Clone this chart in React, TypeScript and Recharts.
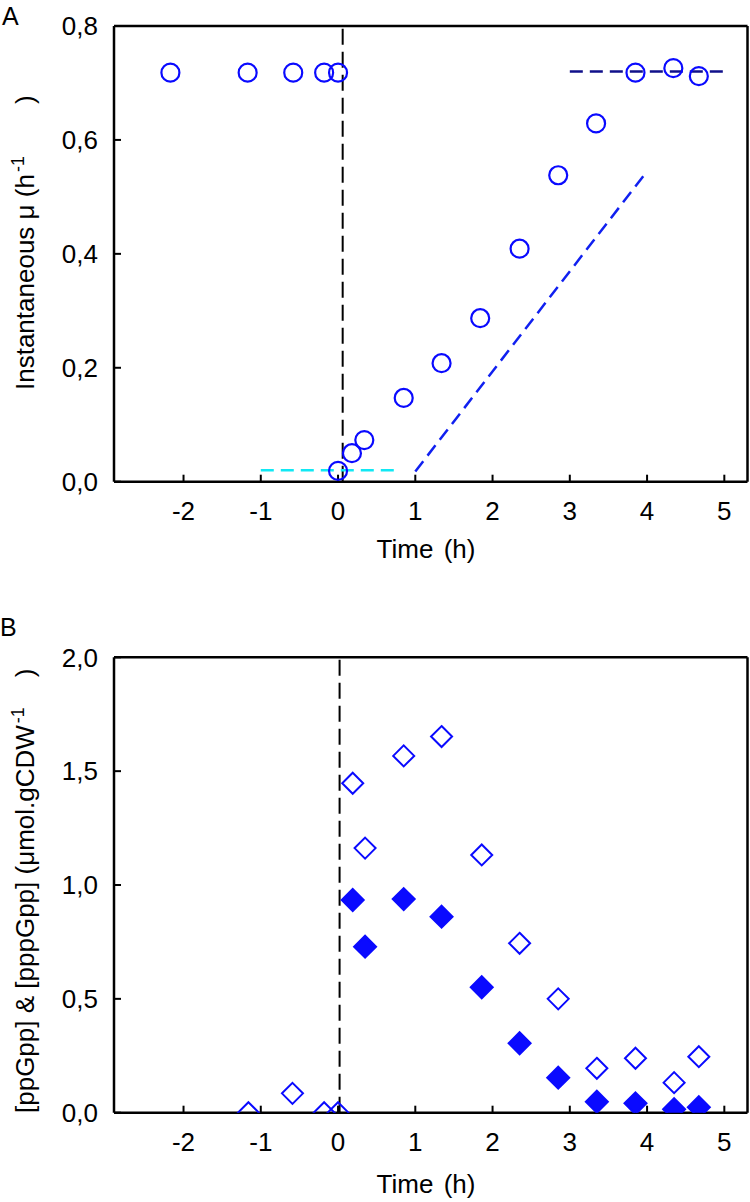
import { ReferenceLine, Scatter, ScatterChart, XAxis, YAxis } from 'recharts';

const FONT = '"Liberation Sans", Arial, sans-serif';
const BLUE = '#0a0aff';

// x ticks shared by both panels
const timeTicks = [-2, -1, 0, 1, 2, 3, 4, 5];
const muTicks = [0, 0.2, 0.4, 0.6, 0.8];
const ppTicks = [0, 0.5, 1, 1.5, 2];

// panel A: instantaneous growth rate
const timeA = [-2.17, -1.17, -0.58, -0.18, 0.0, 0.0, 0.18, 0.34, 0.85, 1.34, 1.84, 2.35, 2.85, 3.34, 3.85, 4.34, 4.67];
const muA = [0.718, 0.718, 0.718, 0.718, 0.718, 0.019, 0.05, 0.073, 0.147, 0.208, 0.287, 0.409, 0.538, 0.629, 0.718, 0.726, 0.712];

// panel B: open diamonds (ppGpp + pppGpp), filled diamonds (pppGpp)
const timeOpen = [-1.16, -0.59, -0.18, 0.0, 0.19, 0.35, 0.85, 1.34, 1.86, 2.35, 2.85, 3.35, 3.85, 4.35, 4.67];
const sumOpen = [0.0, 0.085, 0.0, 0.0, 1.447, 1.162, 1.567, 1.652, 1.132, 0.744, 0.5, 0.195, 0.239, 0.132, 0.246];
const timeFilled = [0.19, 0.35, 0.85, 1.34, 1.86, 2.35, 2.85, 3.35, 3.85, 4.35, 4.67];
const valFilled = [0.934, 0.729, 0.938, 0.861, 0.551, 0.305, 0.154, 0.048, 0.041, 0.015, 0.024];

const zip = (xs: number[], ys: number[]) => xs.map((x, i) => ({ x, y: ys[i] }));

const fmt = (v: number) => v.toFixed(1).replace('.', ',');

const tickStyle = { fill: '#000', fontSize: 26, fontFamily: FONT };
const axisLine = { stroke: '#000', strokeWidth: 2.5 };
const tickLine = { stroke: '#000', strokeWidth: 2 };

const Circle = (p: any) => (
  <circle cx={p.cx} cy={p.cy} r={9} fill="none" stroke={BLUE} strokeWidth={2.2} />
);

const Diamond = (filled: boolean) => (p: any) => {
  const s = filled ? 11 : 10.5;
  return (
    <polygon
      points={`${p.cx},${p.cy - s} ${p.cx + s},${p.cy} ${p.cx},${p.cy + s} ${p.cx - s},${p.cy}`}
      fill={filled ? BLUE : 'none'}
      stroke={BLUE}
      strokeWidth={2}
    />
  );
};

// rotated title, starting at the bottom (x = baseline, y = start)
function YTitle({ x, y, children }: { x: number; y: number; children: any }) {
  return (
    <text
      transform={`translate(${x},${y}) rotate(-90)`}
      textAnchor="start"
      fontSize={26}
      fontFamily={FONT}
      fill="#000"
    >
      {children}
    </text>
  );
}

function XTitle({ x, y }: { x: number; y: number }) {
  return (
    <text x={x} y={y} textAnchor="middle" fontSize={26} fontFamily={FONT} fill="#000">
      Time<tspan dx={3}> (h)</tspan>
    </text>
  );
}

export default function App() {
  return (
    <div style={{ position: 'absolute', left: 0, top: 0, width: 750, height: 1202, background: '#fff' }}>
      <div style={{ position: 'absolute', left: 0, top: 0 }}>
        <ScatterChart width={750} height={600} margin={{ top: 26, right: 2.5, left: 54, bottom: 58.3 }}>
          <XAxis
            type="number"
            dataKey="x"
            domain={[-2.9, 5.3]}
            ticks={timeTicks}
            allowDataOverflow
            height={60}
            tick={tickStyle}
            tickSize={-7}
            tickMargin={27}
            axisLine={axisLine}
            tickLine={tickLine}
            label={{ content: () => <XTitle x={426} y={558} /> }}
          />
          <YAxis
            type="number"
            dataKey="y"
            domain={[0, 0.8]}
            ticks={muTicks}
            allowDataOverflow
            width={60}
            tick={tickStyle}
            tickSize={-7}
            tickMargin={23}
            tickFormatter={fmt}
            axisLine={axisLine}
            tickLine={tickLine}
            label={{
              content: () => (
                <YTitle x={34} y={390}>
                  Instantaneous μ (h
                  <tspan dx={2} dy={-10} fontSize={18}>-1</tspan>
                  <tspan dx={52} dy={10}>)</tspan>
                </YTitle>
              ),
            }}
          />
          <ReferenceLine y={0.8} stroke="#000" strokeWidth={2.5} />
          <ReferenceLine x={5.3} stroke="#000" strokeWidth={2.5} />
          <ReferenceLine x={0.06} stroke="#000" strokeWidth={2} strokeDasharray="16 7" />
          <ReferenceLine segment={[{ x: -1, y: 0.02 }, { x: 0.78, y: 0.02 }]} stroke="#10e8f4" strokeWidth={2.5} strokeDasharray="13 7" />
          <ReferenceLine segment={[{ x: 1, y: 0.018 }, { x: 4, y: 0.545 }]} stroke="#1020f0" strokeWidth={2.5} strokeDasharray="13 7" />
          <ReferenceLine segment={[{ x: 3, y: 0.72 }, { x: 5, y: 0.72 }]} stroke="#10108a" strokeWidth={2.5} strokeDasharray="13 7" />
          <Scatter data={zip(timeA, muA)} shape={Circle} isAnimationActive={false} />
        </ScatterChart>
      </div>
      <div style={{ position: 'absolute', left: 0, top: 600 }}>
        <ScatterChart width={750} height={602} margin={{ top: 57.3, right: 2.5, left: 54, bottom: 29.3 }}>
          <XAxis
            type="number"
            dataKey="x"
            domain={[-2.9, 5.3]}
            ticks={timeTicks}
            allowDataOverflow
            height={60}
            tick={tickStyle}
            tickSize={-7}
            tickMargin={27}
            axisLine={axisLine}
            tickLine={tickLine}
            label={{ content: () => <XTitle x={426} y={593} /> }}
          />
          <YAxis
            type="number"
            dataKey="y"
            domain={[0, 2]}
            ticks={ppTicks}
            allowDataOverflow
            width={60}
            tick={tickStyle}
            tickSize={-7}
            tickMargin={23}
            tickFormatter={fmt}
            axisLine={axisLine}
            tickLine={tickLine}
            label={{
              content: () => (
                <YTitle x={34} y={513}>
                  [ppGpp] &amp; [pppGpp] (μmol.gCDW
                  <tspan dx={2} dy={-10} fontSize={18}>-1</tspan>
                  <tspan dx={30} dy={10}>)</tspan>
                </YTitle>
              ),
            }}
          />
          <ReferenceLine y={2} stroke="#000" strokeWidth={2.5} />
          <ReferenceLine x={5.3} stroke="#000" strokeWidth={2.5} />
          <ReferenceLine x={0.02} stroke="#000" strokeWidth={2} strokeDasharray="16 7" />
          <Scatter data={zip(timeOpen, sumOpen)} shape={Diamond(false)} isAnimationActive={false} />
          <Scatter data={zip(timeFilled, valFilled)} shape={Diamond(true)} isAnimationActive={false} />
        </ScatterChart>
      </div>
      <svg width={750} height={1202} style={{ position: 'absolute', left: 0, top: 0, pointerEvents: 'none' }}>
        <text x={2} y={25} fontSize={25} fontFamily={FONT} fill="#000">A</text>
        <text x={0} y={636} fontSize={25} fontFamily={FONT} fill="#000">B</text>
      </svg>
    </div>
  );
}
